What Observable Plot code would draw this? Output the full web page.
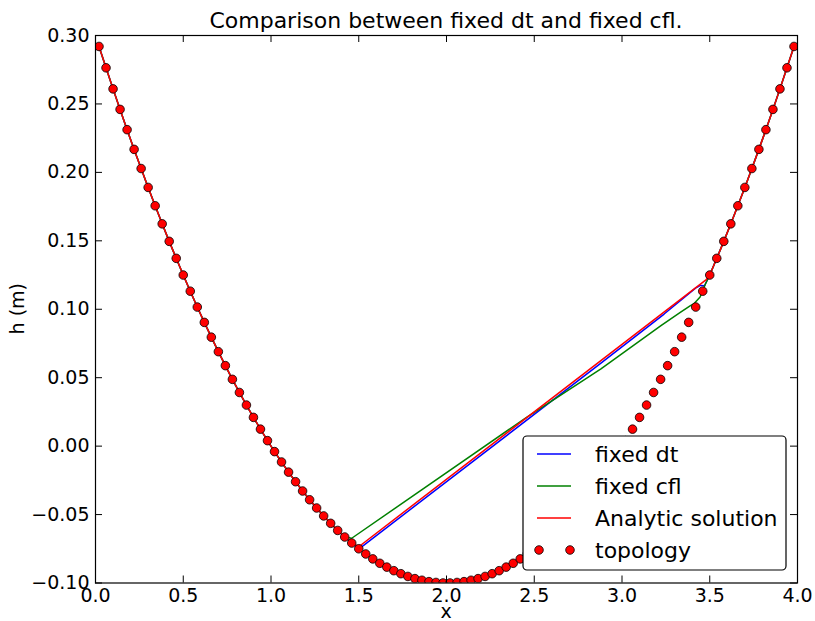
<!DOCTYPE html>
<html><head><meta charset="utf-8">
<script src="https://cdn.jsdelivr.net/npm/d3@7"></script>
<script src="https://cdn.jsdelivr.net/npm/@observablehq/plot@0.6"></script>
<style>body{margin:0;background:#fff}</style>
</head><body><div id="chart"></div>
<script>
// topology (bed) sample points
const topoX = [0.02,0.06,0.10,0.14,0.18,0.22,0.26,0.30,0.34,0.38,0.42,0.46,0.50,0.54,0.58,0.62,0.66,0.70,0.74,0.78,0.82,0.86,0.90,0.94,0.98,1.02,1.06,1.10,1.14,1.18,1.22,1.26,1.30,1.34,1.38,1.42,1.46,1.50,1.54,1.58,1.62,1.66,1.70,1.74,1.78,1.82,1.86,1.90,1.94,1.98,2.02,2.06,2.10,2.14,2.18,2.22,2.26,2.30,2.34,2.38,2.42,2.46,2.50,2.54,2.58,2.62,2.66,2.70,2.74,2.78,2.82,2.86,2.90,2.94,2.98,3.02,3.06,3.10,3.14,3.18,3.22,3.26,3.30,3.34,3.38,3.42,3.46,3.50,3.54,3.58,3.62,3.66,3.70,3.74,3.78,3.82,3.86,3.90,3.94,3.98];
const topoH = [0.2920,0.2764,0.2610,0.2460,0.2312,0.2168,0.2028,0.1890,0.1756,0.1624,0.1496,0.1372,0.1250,0.1132,0.1016,0.0904,0.0796,0.0690,0.0588,0.0488,0.0392,0.0300,0.0210,0.0124,0.0040,-0.0040,-0.0116,-0.0190,-0.0260,-0.0328,-0.0392,-0.0452,-0.0510,-0.0564,-0.0616,-0.0664,-0.0708,-0.0750,-0.0788,-0.0824,-0.0856,-0.0884,-0.0910,-0.0932,-0.0952,-0.0968,-0.0980,-0.0990,-0.0996,-0.1000,
  -0.1000,-0.0996,-0.0990,-0.0980,-0.0968,-0.0952,-0.0932,-0.0910,-0.0884,-0.0856,-0.0824,-0.0788,-0.0750,-0.0708,-0.0664,-0.0616,-0.0564,-0.0510,-0.0452,-0.0392,-0.0328,-0.0260,-0.0190,-0.0116,-0.0040,0.0040,0.0124,0.0210,0.0300,0.0392,0.0488,0.0588,0.0690,0.0796,0.0904,0.1016,0.1132,0.1250,0.1372,0.1496,0.1624,0.1756,0.1890,0.2028,0.2168,0.2312,0.2460,0.2610,0.2764,0.2920];

// wet (water surface) parts of each solution; dry parts follow topology
const dtDry = [1.46, 3.50];
const dtWetX = [1.50, 2.88, 3.24, 3.419, 3.447, 3.47];
const dtWetH = [-0.0752, 0.0606, 0.0965, 0.1154, 0.1174, 0.1172];

const cflDry = [1.42, 3.50];
const cflWetX = [1.46, 2.45, 2.88, 3.22, 3.33, 3.39, 3.41, 3.445, 3.476];
const cflWetH = [-0.0673, 0.0205, 0.0565, 0.0878, 0.0975, 0.1027, 0.1040, 0.1090, 0.1186];

const anaDry = [1.46, 3.50];
const anaWetX = [1.50, 3.48];
const anaWetH = [-0.0735, 0.1217];

const xTicks = [0.0, 0.5, 1.0, 1.5, 2.0, 2.5, 3.0, 3.5, 4.0];
const yTicks = [-0.10, -0.05, 0.00, 0.05, 0.10, 0.15, 0.20, 0.25, 0.30];

const seriesNames = ["fixed dt", "fixed cfl", "Analytic solution", "topology"];
const seriesColors = ["#0000ff", "#008000", "#ff0000", "#ff0000"];

const topo = topoX.map((x, i) => ({x, h: topoH[i]}));
function build(dry, wx, wh) {
  return [
    ...topo.filter(d => d.x <= dry[0]),
    ...wx.map((x, i) => ({x, h: wh[i]})),
    ...topo.filter(d => d.x >= dry[1])
  ];
}
const dtLine = build(dtDry, dtWetX, dtWetH);
const cflLine = build(cflDry, cflWetX, cflWetH);
const anaLine = build(anaDry, anaWetX, anaWetH);

const W = 815, H = 621;
const mL = 95, mR = 18, mT = 35, mB = 38.5;
const fw = W - mL - mR, fh = H - mT - mB;
const tickLen = 7;

const svg = Plot.plot({
  width: W, height: H,
  marginLeft: mL, marginRight: mR, marginTop: mT, marginBottom: mB,
  style: {fontFamily: "DejaVu Sans", fontSize: "19px", background: "#fff", color: "#000"},
  x: {domain: [0, 4]},
  y: {domain: [-0.10, 0.30]},
  marks: [
    Plot.line(dtLine, {x: "x", y: "h", stroke: seriesColors[0], strokeWidth: 1.5}),
    Plot.line(cflLine, {x: "x", y: "h", stroke: seriesColors[1], strokeWidth: 1.5}),
    Plot.line(anaLine, {x: "x", y: "h", stroke: seriesColors[2], strokeWidth: 1.5}),
    Plot.dot(topo, {x: "x", y: "h", r: 4.3, fill: seriesColors[3], stroke: "#000", strokeWidth: 0.8, clip: true}),
    Plot.tickX(xTicks, {x: d => d, insetTop: fh - tickLen, stroke: "#000", strokeWidth: 1}),
    Plot.tickX(xTicks, {x: d => d, insetBottom: fh - tickLen, stroke: "#000", strokeWidth: 1}),
    Plot.tickY(yTicks, {y: d => d, insetRight: fw - tickLen, stroke: "#000", strokeWidth: 1}),
    Plot.tickY(yTicks, {y: d => d, insetLeft: fw - tickLen, stroke: "#000", strokeWidth: 1}),
    Plot.frame({stroke: "#000", strokeWidth: 1.2}),
    Plot.axisX({ticks: xTicks, tickSize: 0, tickPadding: 5, tickFormat: d3.format(".1f"), label: null, fontSize: 19}),
    Plot.axisY({ticks: yTicks, tickSize: 0, tickPadding: 6, tickFormat: d3.format(".2f"), label: null, fontSize: 19})
  ]
});
document.getElementById("chart").appendChild(svg);

const s = d3.select(svg);
const cx = mL + fw / 2;
s.append("text").attr("x", cx).attr("y", 28).attr("text-anchor", "middle")
  .attr("font-family", "DejaVu Sans").attr("font-size", 22).attr("fill", "#000")
  .text("Comparison between fixed dt and fixed cfl.");
s.append("text").attr("x", cx).attr("y", 618).attr("text-anchor", "middle")
  .attr("font-family", "DejaVu Sans").attr("font-size", 19).attr("fill", "#000").text("x");
s.append("text").attr("transform", `translate(24,${mT + fh / 2}) rotate(-90)`).attr("text-anchor", "middle")
  .attr("font-family", "DejaVu Sans").attr("font-size", 19).attr("fill", "#000").text("h (m)");

// legend
const lg = s.append("g");
lg.append("rect").attr("x", 523).attr("y", 436).attr("width", 263).attr("height", 134).attr("rx", 4)
  .attr("fill", "#fff").attr("stroke", "#000").attr("stroke-width", 1.2);
const rowY = [454, 486, 518, 550];
seriesNames.forEach((name, i) => {
  const y = rowY[i];
  if (i < 3) {
    lg.append("line").attr("x1", 537).attr("x2", 571).attr("y1", y).attr("y2", y)
      .attr("stroke", seriesColors[i]).attr("stroke-width", 1.5);
  } else {
    [539, 570].forEach(x => lg.append("circle").attr("cx", x).attr("cy", y).attr("r", 4.3)
      .attr("fill", seriesColors[i]).attr("stroke", "#000").attr("stroke-width", 0.8));
  }
  lg.append("text").attr("x", 595).attr("y", y + 7.5).attr("text-anchor", "start")
    .attr("font-family", "DejaVu Sans").attr("font-size", 22).attr("fill", "#000").text(name);
});
</script>
</body></html>
